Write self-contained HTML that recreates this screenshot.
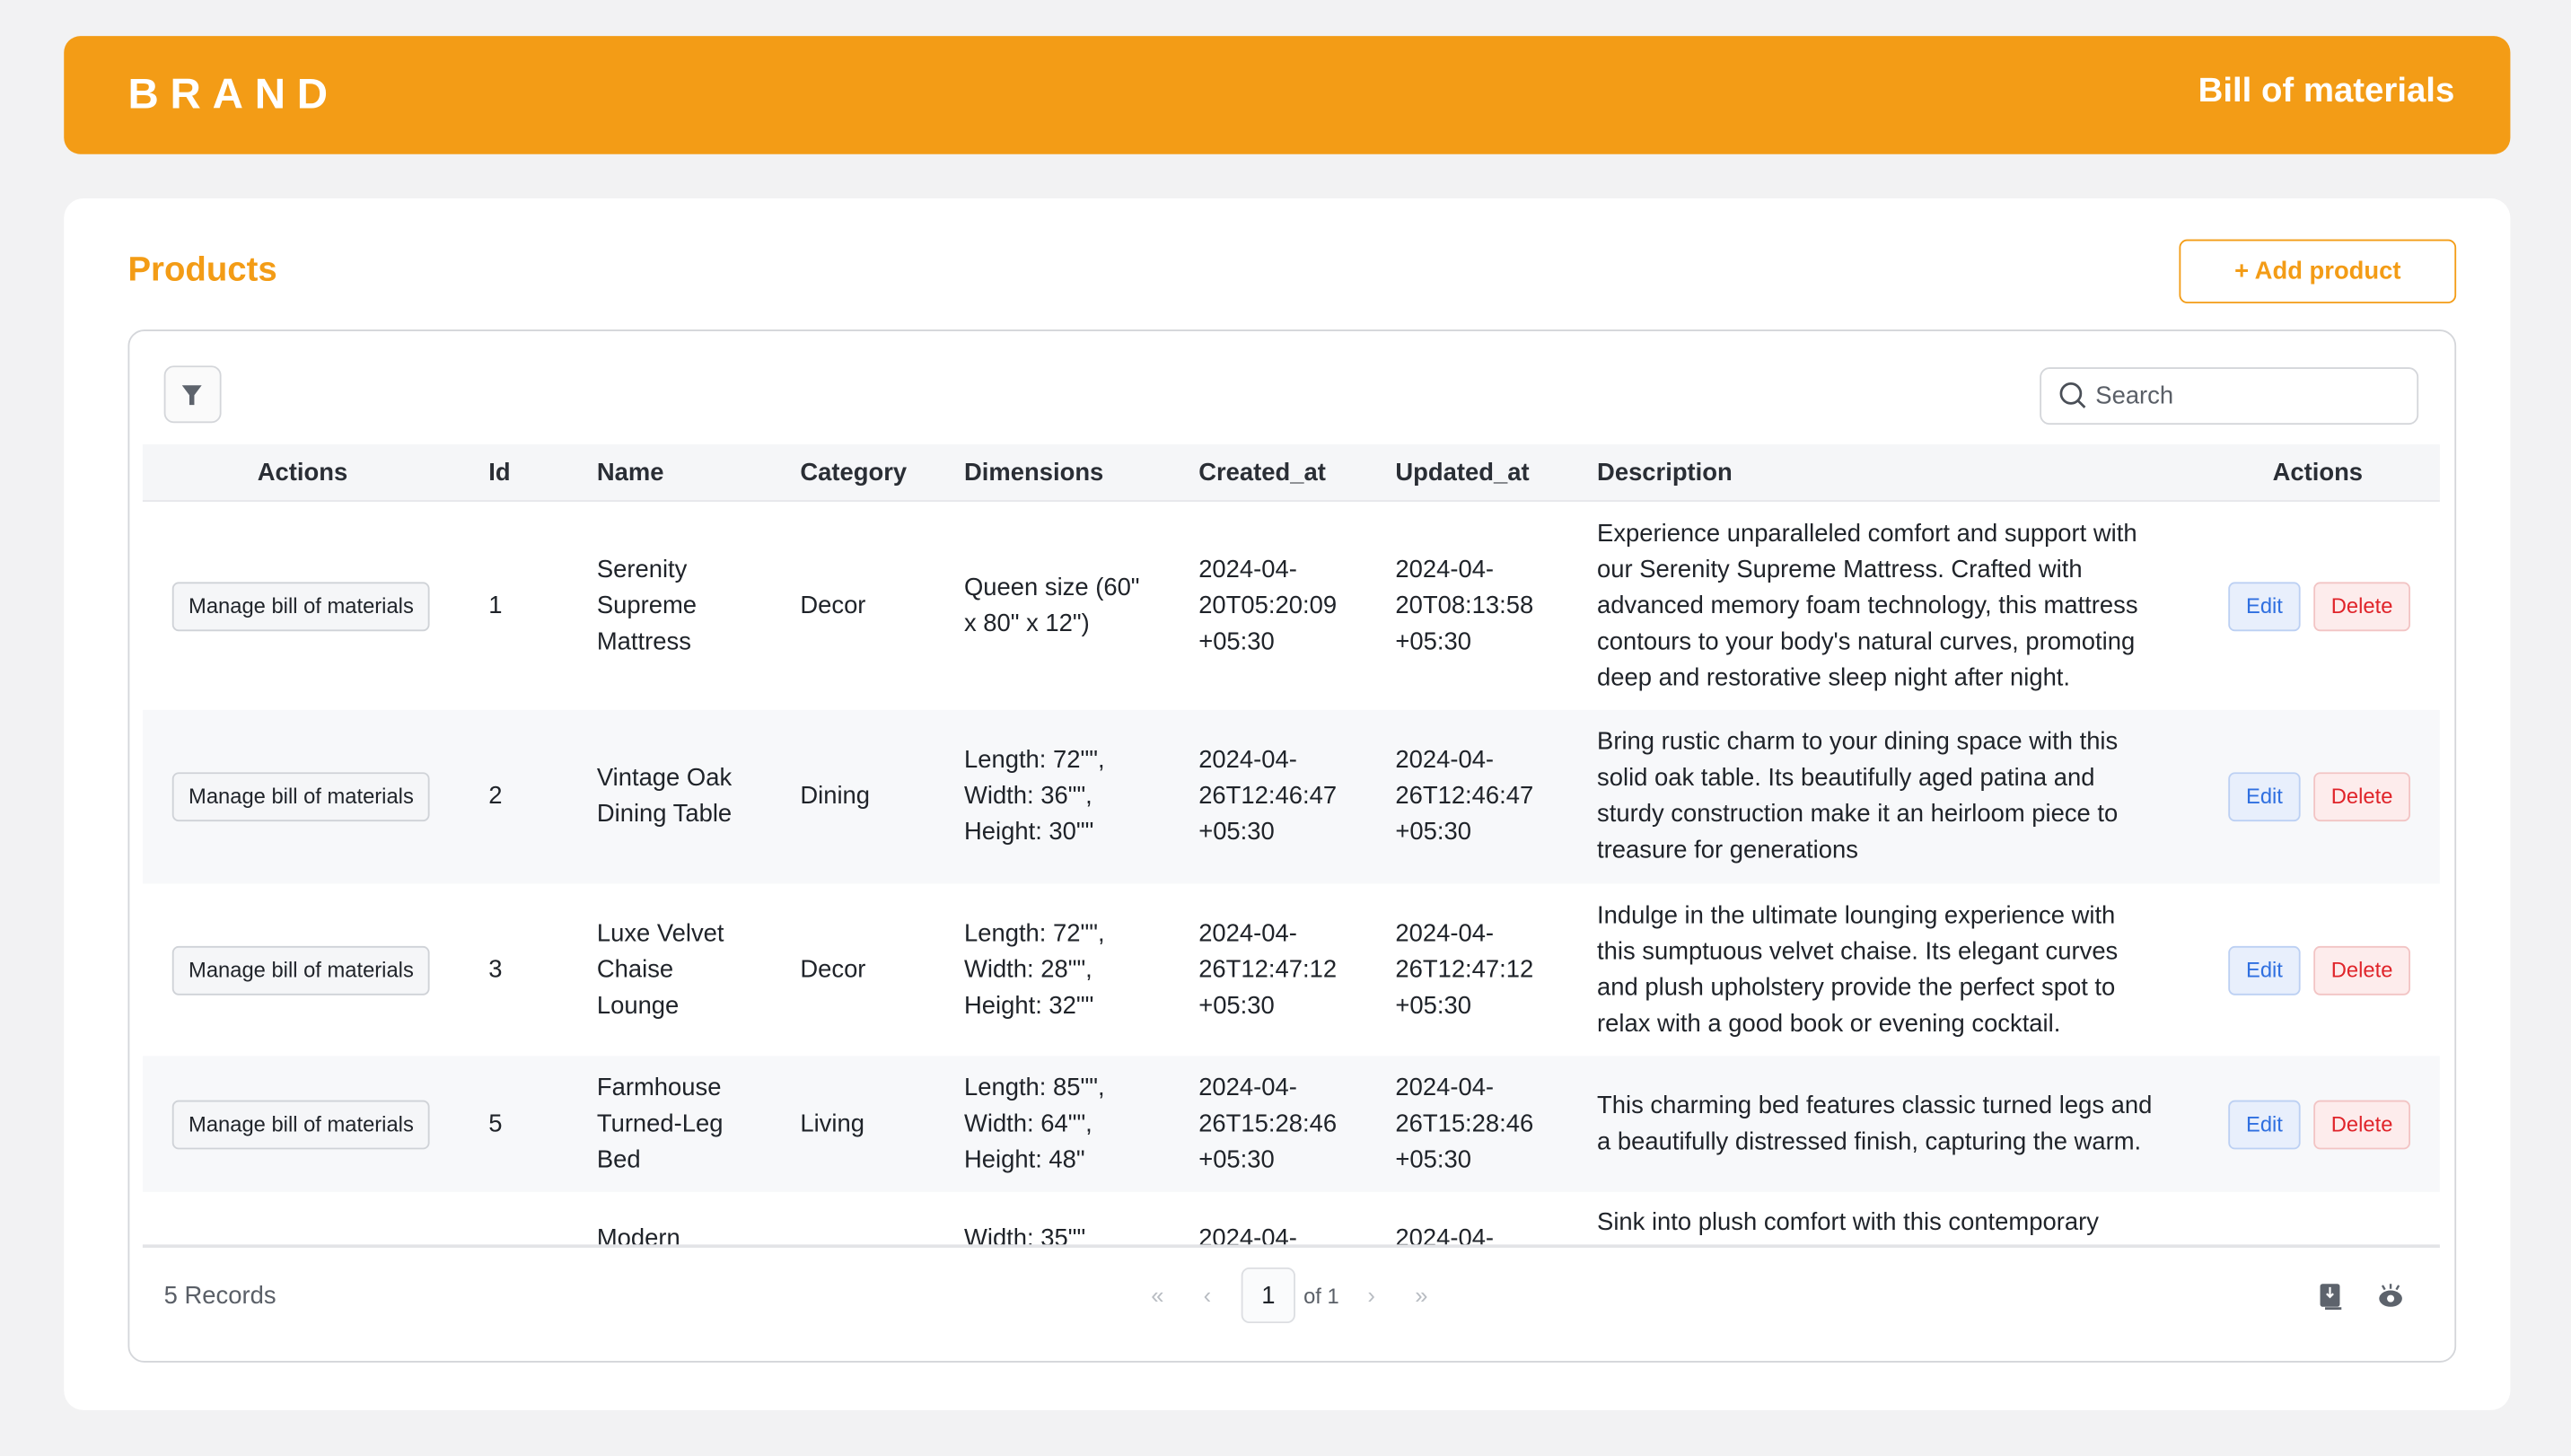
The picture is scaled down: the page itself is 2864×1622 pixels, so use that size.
<!DOCTYPE html>
<html><head><meta charset="utf-8"><style>
*{box-sizing:border-box;margin:0;padding:0}
html,body{width:2864px;height:1622px;overflow:hidden;background:#f2f2f3}
#w{position:absolute;left:0;top:0;width:1568px;height:888px;transform:scale(1.82653,1.82658);transform-origin:0 0;font-family:"Liberation Sans",sans-serif;color:#1f2329;font-size:15px}
.a{position:absolute}
.hdr{left:39px;top:22px;width:1492px;height:72px;background:#f39c16;border-radius:10px}
.card{left:39px;top:121px;width:1492px;height:739px;background:#fff;border-radius:12px}
.box{left:78px;top:201px;width:1420px;height:630px;border:1.5px solid #d4d6da;border-radius:10px}
.th{top:271px;left:87px;width:1401px;height:35px;background:#f5f6f8;border-bottom:1.5px solid #e6e7ea}
.th span{position:absolute;top:9px;font-weight:bold;font-size:15px;color:#2a2e35}
.clip{left:87px;top:306px;width:1401px;height:453px;overflow:hidden}
.row{position:absolute;left:0;width:1401px}
.c{position:absolute;top:0;height:100%;display:flex;align-items:center;line-height:22px;font-size:15px}
.d{width:340px}
.mb{font-size:13px;border:1.5px solid #cfd2d7;background:#f5f6f8;border-radius:4px;height:30px;padding:0 9px;display:flex;align-items:center;white-space:nowrap}
.ed{font-size:13px;border:1px solid #bcd0f3;background:#e8effc;color:#2f6fe0;border-radius:4px;height:30px;width:44px;display:flex;align-items:center;justify-content:center}
.de{font-size:13px;border:1px solid #f2c4c4;background:#fdecec;color:#e0242a;border-radius:4px;height:30px;width:59px;display:flex;align-items:center;justify-content:center;margin-left:8px}
</style></head><body><div id="w">
<div class="a hdr"></div>
<div class="a" style="left:78px;top:42px;color:#fff;font-weight:bold;font-size:26px;letter-spacing:7px">BRAND</div>
<div class="a" style="right:71px;top:44px;color:#fff;font-weight:bold;font-size:21px">Bill of materials</div>
<div class="a card"></div>
<div class="a" style="left:78px;top:153px;color:#f39c16;font-weight:bold;font-size:21px">Products</div>
<div class="a" style="left:1329px;top:146px;width:169px;height:39px;border:1.5px solid #f39c16;border-radius:5px;color:#f39c16;font-size:15px;font-weight:600;display:flex;align-items:center;justify-content:center">+ Add product</div>
<div class="a box"></div>
<div class="a" style="left:100px;top:223px;width:35px;height:35px;border:1.5px solid #d4d6da;border-radius:6px;background:#fafafa"><svg width="32" height="32" viewBox="0 0 32 32"><path d="M10 11h12l-4.5 6v6h-3v-6z" fill="#5d636c"/></svg></div>
<div class="a" style="left:1244px;top:224px;width:231px;height:35px;border:1.5px solid #d4d6da;border-radius:6px"><svg class="a" style="left:10px;top:7px" width="20" height="20" viewBox="0 0 20 20"><circle cx="8" cy="8" r="6" fill="none" stroke="#4a4f57" stroke-width="1.5"/><path d="M12.5 12.5l4 4" stroke="#4a4f57" stroke-width="1.5"/></svg><span class="a" style="left:33px;top:8px;color:#5a5f67;font-size:15px">Search</span></div>
<div class="a th"><span style="left:70px">Actions</span><span style="left:211px">Id</span><span style="left:277px">Name</span><span style="left:401px">Category</span><span style="left:501px">Dimensions</span><span style="left:644px">Created_at</span><span style="left:764px">Updated_at</span><span style="left:887px">Description</span><span style="left:1299px">Actions</span></div>
<div class="a clip">
<div class="row" style="top:0;height:127px;background:#fff">
<div class="c" style="left:18px"><div class="mb">Manage bill of materials</div></div>
<div class="c" style="left:211px">1</div>
<div class="c" style="left:277px">Serenity<br>Supreme<br>Mattress</div>
<div class="c" style="left:401px">Decor</div>
<div class="c" style="left:501px">Queen size (60"<br>x 80" x 12")</div>
<div class="c" style="left:644px">2024-04-<br>20T05:20:09<br>+05:30</div>
<div class="c" style="left:764px">2024-04-<br>20T08:13:58<br>+05:30</div>
<div class="c d" style="left:887px">Experience unparalleled comfort and support with our Serenity Supreme Mattress. Crafted with advanced memory foam technology, this mattress contours to your body's natural curves, promoting deep and restorative sleep night after night.</div>
<div class="c" style="left:1272px"><div class="ed">Edit</div><div class="de">Delete</div></div>
</div>
<div class="row" style="top:127px;height:106px;background:#f7f8fa">
<div class="c" style="left:18px"><div class="mb">Manage bill of materials</div></div>
<div class="c" style="left:211px">2</div>
<div class="c" style="left:277px">Vintage Oak<br>Dining Table</div>
<div class="c" style="left:401px">Dining</div>
<div class="c" style="left:501px">Length: 72"",<br>Width: 36"",<br>Height: 30""</div>
<div class="c" style="left:644px">2024-04-<br>26T12:46:47<br>+05:30</div>
<div class="c" style="left:764px">2024-04-<br>26T12:46:47<br>+05:30</div>
<div class="c d" style="left:887px">Bring rustic charm to your dining space with this solid oak table. Its beautifully aged patina and sturdy construction make it an heirloom piece to treasure for generations</div>
<div class="c" style="left:1272px"><div class="ed">Edit</div><div class="de">Delete</div></div>
</div>
<div class="row" style="top:233px;height:105px;background:#fff">
<div class="c" style="left:18px"><div class="mb">Manage bill of materials</div></div>
<div class="c" style="left:211px">3</div>
<div class="c" style="left:277px">Luxe Velvet<br>Chaise<br>Lounge</div>
<div class="c" style="left:401px">Decor</div>
<div class="c" style="left:501px">Length: 72"",<br>Width: 28"",<br>Height: 32""</div>
<div class="c" style="left:644px">2024-04-<br>26T12:47:12<br>+05:30</div>
<div class="c" style="left:764px">2024-04-<br>26T12:47:12<br>+05:30</div>
<div class="c d" style="left:887px">Indulge in the ultimate lounging experience with this sumptuous velvet chaise. Its elegant curves and plush upholstery provide the perfect spot to relax with a good book or evening cocktail.</div>
<div class="c" style="left:1272px"><div class="ed">Edit</div><div class="de">Delete</div></div>
</div>
<div class="row" style="top:338px;height:83px;background:#f7f8fa">
<div class="c" style="left:18px"><div class="mb">Manage bill of materials</div></div>
<div class="c" style="left:211px">5</div>
<div class="c" style="left:277px">Farmhouse<br>Turned-Leg<br>Bed</div>
<div class="c" style="left:401px">Living</div>
<div class="c" style="left:501px">Length: 85"",<br>Width: 64"",<br>Height: 48"</div>
<div class="c" style="left:644px">2024-04-<br>26T15:28:46<br>+05:30</div>
<div class="c" style="left:764px">2024-04-<br>26T15:28:46<br>+05:30</div>
<div class="c d" style="left:887px">This charming bed features classic turned legs and a beautifully distressed finish, capturing the warm.</div>
<div class="c" style="left:1272px"><div class="ed">Edit</div><div class="de">Delete</div></div>
</div>
<div class="row" style="top:421px;height:100px;background:#fff">
<div class="a" style="left:277px;top:18px;line-height:22px">Modern</div>
<div class="a" style="left:501px;top:18px;line-height:22px">Width: 35""</div>
<div class="a" style="left:644px;top:18px;line-height:22px">2024-04-</div>
<div class="a" style="left:764px;top:18px;line-height:22px">2024-04-</div>
<div class="a" style="left:887px;top:8px;line-height:22px">Sink into plush comfort with this contemporary</div>
</div>
</div>
<div class="a" style="left:87px;top:759px;width:1401px;height:1.5px;background:#e3e4e7"></div>
<div class="a" style="left:100px;top:782px;color:#5a5f67;font-size:15px">5 Records</div>
<div class="a" style="left:702px;top:782px;color:#b8bcc2;font-size:14px">«</div>
<div class="a" style="left:734px;top:782px;color:#b8bcc2;font-size:14px">‹</div>
<div class="a" style="left:757px;top:773px;width:33px;height:34px;border:1.5px solid #dcdee2;border-radius:5px;background:#fafbfc;display:flex;align-items:center;justify-content:center;font-size:15px">1</div>
<div class="a" style="left:795px;top:783px;color:#5a5f67;font-size:13px">of 1</div>
<div class="a" style="left:834px;top:782px;color:#b8bcc2;font-size:14px">›</div>
<div class="a" style="left:863px;top:782px;color:#b8bcc2;font-size:14px">»</div>
<svg class="a" style="left:1414px;top:782px" width="16" height="18" viewBox="0 0 16 18"><rect x="1" y="1" width="12" height="14" rx="1.5" fill="#5d636c"/><path d="M7 3v6M5 7l2 2 2-2" stroke="#fff" stroke-width="1.2" fill="none"/><path d="M4 16h10" stroke="#5d636c" stroke-width="1.5"/></svg>
<svg class="a" style="left:1449px;top:781px" width="18" height="18" viewBox="0 0 18 18"><ellipse cx="9" cy="11" rx="7" ry="5" fill="#5d636c"/><circle cx="9" cy="11" r="2.2" fill="#fff"/><path d="M9 2v3M4 3l1.5 2.5M14 3l-1.5 2.5" stroke="#5d636c" stroke-width="1.3"/></svg>
</div></body></html>
